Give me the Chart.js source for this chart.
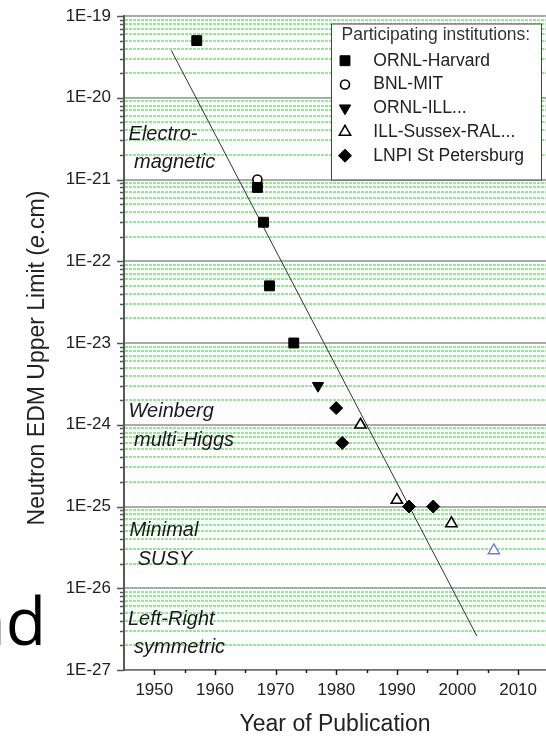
<!DOCTYPE html>
<html>
<head>
<meta charset="utf-8">
<title>Neutron EDM upper limit</title>
<script src="https://cdn.jsdelivr.net/npm/chart.js@4/dist/chart.umd.min.js"></script>
<style>
  html, body { margin: 0; padding: 0; background: #fff; overflow: hidden; }
  #wrap { position: relative; width: 546px; height: 738px; overflow: hidden; }
  #graph { position: absolute; left: 0; top: 0; }
  #slide { position: absolute; left: -31px; top: 586px; font: 66px 'Open Sans', sans-serif; line-height: 66px; color: #000; white-space: nowrap; }
</style>
</head>
<body>
<div id="wrap">
  <canvas id="graph" width="546" height="738"></canvas>
  <div id="slide">ad</div>
</div>
<script>
// upper limits (e.cm) by year of publication, one pair of arrays per group
const harvardYears = [1957, 1967, 1968, 1969, 1973];
const harvardLimits = [5e-20, 8e-22, 3e-22, 5e-23, 1e-23];
const mitYears = [1967];
const mitLimits = [1e-21];
const ornlIllYears = [1977];
const ornlIllLimits = [3e-24];
const sussexYears = [1984, 1990, 1999];
const sussexLimits = [1e-24, 1.2e-25, 6.2e-26];
const lnpiYears = [1980, 1981, 1992, 1996];
const lnpiLimits = [1.6e-24, 6e-25, 1e-25, 1e-25];
const latestYears = [2006];
const latestLimits = [2.9e-26];

// straight-line trend on the log scale
const fitYears = [1952.8, 2003.2];
const fitLimits = [3.8e-20, 2.6e-27];

const institutionNames = ['ORNL-Harvard', 'BNL-MIT', 'ORNL-ILL...', 'ILL-Sussex-RAL...', 'LNPI St Petersburg'];

// axis ticks
const yearTicks = [1950, 1955, 1960, 1965, 1970, 1975, 1980, 1985, 1990, 1995, 2000, 2005, 2010];
const exponents = [-27, -26, -25, -24, -23, -22, -21, -20];
const mantissas = [1, 2, 3, 4, 5, 6, 7, 8, 9];

// theory regions written down the left side
const regionText = ['Electro-', 'magnetic', 'Weinberg', 'multi-Higgs', 'Minimal', 'SUSY', 'Left-Right', 'symmetric'];
const regionYears = [1945.75, 1946.65, 1945.75, 1946.65, 1945.9, 1947.25, 1945.65, 1946.65];
const regionLimits = [3.0e-21, 1.4e-21, 1.26e-24, 5.5e-25, 4.4e-26, 1.9e-26, 3.6e-27, 1.6e-27];

const FONT = '"Liberation Sans", Arial, sans-serif';
Chart.defaults.font.family = FONT;
Chart.defaults.color = '#222';

const limitTicks = [];
for (const e of exponents) {
  for (const m of mantissas) limitTicks.push(Number(m + 'e' + e));
}
limitTicks.push(1e-19);

function isDecade(v) {
  const l = Math.log10(v);
  return Math.abs(l - Math.round(l)) < 1e-6;
}

function toPoints(xs, ys) {
  return xs.map((x, i) => ({ x: x, y: ys[i] }));
}

// dotted green lines at 2..9 of each decade, solid grey at the decades
function drawGrid(chart) {
  const ctx = chart.ctx;
  const area = chart.chartArea;
  const y = chart.scales.y;
  ctx.save();
  for (const v of limitTicks) {
    const major = isDecade(v);
    const py = Math.round(y.getPixelForValue(v));
    ctx.beginPath();
    ctx.lineWidth = major ? 1.6 : 1.2;
    ctx.strokeStyle = major ? '#8f8f8f' : '#00ee00';
    ctx.setLineDash(major ? [] : [3, 1]);
    ctx.moveTo(area.left + 1, py);
    ctx.lineTo(area.right, py);
    ctx.stroke();
  }
  ctx.restore();
}

function drawLegend(chart) {
  const ctx = chart.ctx;
  const area = chart.chartArea;
  const right = area.right - 4.5;
  const left = right - 210;
  const top = area.top + 8;
  const bottom = top + 156;

  ctx.save();
  ctx.fillStyle = '#fff';
  ctx.fillRect(left, top, right - left, bottom - top);
  ctx.strokeStyle = '#444';
  ctx.lineWidth = 1;
  ctx.strokeRect(left, top, right - left, bottom - top);

  ctx.font = '17.5px ' + FONT;
  ctx.textBaseline = 'middle';
  ctx.fillStyle = '#333';
  ctx.fillText('Participating institutions:', left + 10, top + 11);

  const entries = chart.data.datasets.filter(ds => ds.showInLegend !== false);
  for (let i = 0; i < entries.length; ++i) {
    const ds = entries[i];
    const cy = top + 36.7 + i * 23.75;
    ctx.fillStyle = ds.backgroundColor;
    ctx.strokeStyle = ds.borderColor;
    ctx.lineWidth = ds.borderWidth;
    Chart.helpers.drawPoint(ctx, {
      pointStyle: ds.pointStyle,
      rotation: ds.pointRotation || 0,
      radius: ds.pointRadius,
      borderWidth: ds.borderWidth
    }, left + 13.5, cy);
    ctx.fillStyle = '#222';
    ctx.fillText(ds.label, left + 41.8, cy);
  }
  ctx.restore();
}

function drawTickMarks(chart) {
  const ctx = chart.ctx;
  const x = chart.scales.x;
  const y = chart.scales.y;
  ctx.save();
  ctx.lineWidth = 1.5;
  ctx.strokeStyle = '#555';
  ctx.beginPath();
  for (const v of limitTicks) {
    const py = Math.round(y.getPixelForValue(v)) + 0.5;
    const len = isDecade(v) ? 7 : 4;
    ctx.moveTo(y.right - len, py);
    ctx.lineTo(y.right, py);
  }
  ctx.stroke();
  ctx.strokeStyle = '#1a1a1a';
  ctx.beginPath();
  for (const v of yearTicks) {
    const px = Math.round(x.getPixelForValue(v)) + 0.5;
    const len = v % 10 === 0 ? 5 : 3;
    ctx.moveTo(px, x.top);
    ctx.lineTo(px, x.top + len);
  }
  ctx.stroke();
  ctx.restore();
}

function drawLimitTitle(chart) {
  const ctx = chart.ctx;
  const area = chart.chartArea;
  const parts = [
    ['Neutron EDM Upper Limit (', '23px ' + FONT],
    ['e', 'italic 23px ' + FONT],
    ['.cm)', '23px ' + FONT]
  ];
  ctx.save();
  ctx.translate(38, (area.top + area.bottom) / 2 + 15);
  ctx.rotate(-Math.PI / 2);
  ctx.fillStyle = '#222';
  ctx.textBaseline = 'middle';
  let total = 0;
  for (const p of parts) {
    ctx.font = p[1];
    total += ctx.measureText(p[0]).width;
  }
  let pos = -total / 2;
  for (const p of parts) {
    ctx.font = p[1];
    ctx.fillText(p[0], pos, 0);
    pos += ctx.measureText(p[0]).width;
  }
  ctx.restore();
}

const decorations = {
  id: 'decorations',
  beforeDatasetsDraw(chart) {
    drawGrid(chart);
  },
  afterDatasetsDraw(chart) {
    const ctx = chart.ctx;
    const x = chart.scales.x;
    const y = chart.scales.y;
    ctx.save();
    ctx.fillStyle = '#1a1a1a';
    ctx.font = 'italic 20px ' + FONT;
    ctx.textBaseline = 'alphabetic';
    for (let i = 0; i < regionText.length; ++i) {
      ctx.fillText(regionText[i], x.getPixelForValue(regionYears[i]), y.getPixelForValue(regionLimits[i]));
    }
    ctx.restore();
    drawLegend(chart);
  },
  afterDraw(chart) {
    drawTickMarks(chart);
    drawLimitTitle(chart);
  }
};

const datasets = [
  {
    label: institutionNames[0],
    data: toPoints(harvardYears, harvardLimits),
    pointStyle: 'rect', pointRadius: 7,
    backgroundColor: '#000', borderColor: '#000', borderWidth: 1
  },
  {
    label: institutionNames[1],
    data: toPoints(mitYears, mitLimits),
    pointStyle: 'circle', pointRadius: 4.5,
    backgroundColor: '#fff', borderColor: '#000', borderWidth: 1.6
  },
  {
    label: institutionNames[2],
    data: toPoints(ornlIllYears, ornlIllLimits),
    pointStyle: 'triangle', pointRotation: 180, pointRadius: 6.5,
    backgroundColor: '#000', borderColor: '#000', borderWidth: 1
  },
  {
    label: institutionNames[3],
    data: toPoints(sussexYears, sussexLimits),
    pointStyle: 'triangle', pointRadius: 6.5,
    backgroundColor: '#fff', borderColor: '#000', borderWidth: 1.6
  },
  {
    label: institutionNames[4],
    data: toPoints(lnpiYears, lnpiLimits),
    pointStyle: 'rectRot', pointRadius: 6.5,
    backgroundColor: '#000', borderColor: '#000', borderWidth: 1
  },
  {
    label: 'ILL-Sussex-RAL 2006',
    showInLegend: false,
    data: toPoints(latestYears, latestLimits),
    pointStyle: 'triangle', pointRadius: 6.5,
    backgroundColor: '#fff', borderColor: '#6f7fd0', borderWidth: 1.4
  },
  {
    type: 'line',
    label: 'trend',
    showInLegend: false,
    data: toPoints(fitYears, fitLimits),
    borderColor: '#333', borderWidth: 1,
    pointRadius: 0, fill: false
  }
];

new Chart(document.getElementById('graph'), {
  type: 'scatter',
  data: { datasets: datasets },
  options: {
    responsive: false,
    animation: false,
    events: [],
    layout: { autoPadding: false, padding: { top: 16, right: 0, bottom: 0, left: 0 } },
    plugins: { legend: { display: false }, tooltip: { enabled: false } },
    scales: {
      x: {
        type: 'linear',
        min: 1945,
        max: 2014.6,
        afterBuildTicks: scale => { scale.ticks = yearTicks.map(v => ({ value: v })); },
        afterFit: scale => {
          scale.height = 68;
          scale.paddingLeft = 0;
          scale.paddingRight = 0;
        },
        grid: { display: false, drawTicks: false },
        border: { color: '#1a1a1a', width: 1.5 },
        ticks: {
          padding: 10, autoSkip: false, maxRotation: 0,
          font: { size: 17 }, color: '#222',
          callback: v => (v % 10 === 0 ? String(v) : '')
        },
        title: {
          display: true, text: 'Year of Publication',
          font: { size: 23 }, color: '#222', padding: 0
        }
      },
      y: {
        type: 'logarithmic',
        min: 1e-27,
        max: 1e-19,
        afterBuildTicks: scale => { scale.ticks = limitTicks.map(v => ({ value: v })); },
        afterFit: scale => {
          scale.width = 124;
          scale.paddingTop = 0;
          scale.paddingBottom = 0;
        },
        grid: { display: false, drawTicks: false },
        border: { color: '#5a5a5a', width: 2 },
        ticks: {
          padding: 13, autoSkip: false,
          font: { size: 17 }, color: '#222',
          callback: v => (isDecade(v) ? '1E' + Math.round(Math.log10(v)) : '')
        }
      }
    }
  },
  plugins: [decorations]
});
</script>
</body>
</html>
